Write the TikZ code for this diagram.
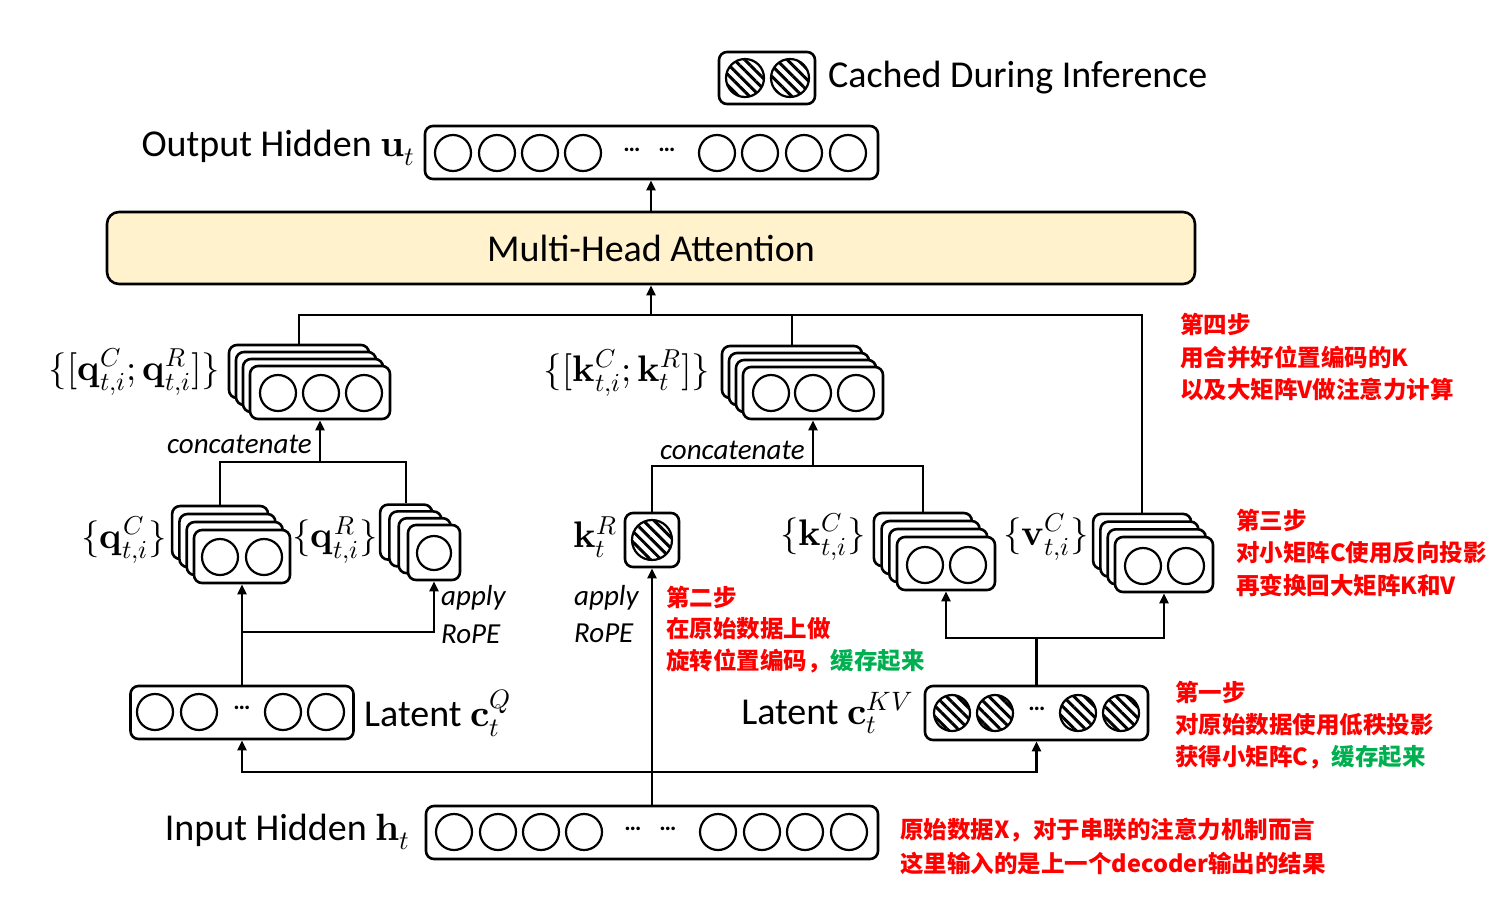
\documentclass[tikz,border=0pt]{standalone}
\usepackage{fontspec}
\usepackage{unicode-math}
\setmainfont{Carlito}
\setmathfont{Latin Modern Math}
\newfontfamily\cjk{Noto Sans CJK SC}
\usetikzlibrary{arrows.meta,patterns.meta,calc}
\definecolor{mhafill}{HTML}{FFF2CC}
\definecolor{stepred}{HTML}{FF0000}
\definecolor{stepgreen}{HTML}{00B050}
\tikzset{
  vbox/.style={draw, line width=2.6pt, rounded corners=8pt, fill=white, inner sep=0pt},
  cir/.style={circle, draw, line width=2.2pt, minimum size=36pt, inner sep=0pt, fill=white},
  hcir/.style={circle, draw, line width=2.2pt, minimum size=36pt, inner sep=0pt,
    pattern={Lines[angle=-45,distance=7.5pt,line width=3pt]}},
  conn/.style={line width=2.3pt},
  arr/.style={conn, -{Triangle[length=10pt,width=9pt]}},
  lab/.style={font=\fontsize{38}{44}\selectfont, inner sep=0pt},
  mlab/.style={font=\fontsize{37}{42}\selectfont, inner sep=0pt},
  itl/.style={font=\fontsize{29}{34}\selectfont\itshape, inner sep=0pt},
  note/.style={font=\fontsize{23.5}{28}\selectfont\cjk\bfseries, text=stepred, inner sep=0pt, anchor=west},
  dotsl/.style={font=\fontsize{24}{26}\selectfont\bfseries, inner sep=0pt},
}
\begin{document}
\begin{tikzpicture}[x=1pt,y=-1pt]
\useasboundingbox (0,0) rectangle (1507,906);

% ---------- legend ----------
\node[vbox, minimum width=96pt, minimum height=52pt] (leg) at (767,78) {};
\node[hcir, minimum size=38pt] (leg1) at (745,78) {};
\node[hcir, minimum size=38pt] (leg2) at (790,78) {};
\node[lab, anchor=west] (legt) at (828,78) {Cached During Inference};

% ---------- output hidden ----------
\node[vbox, minimum width=453pt, minimum height=53pt] (out) at (651.5,152.5) {};
\foreach \i/\x in {1/453,2/497,3/540,4/583,5/717,6/760,7/804,8/848}
  \node[cir] (o\i) at (\x,153) {};
\node[dotsl] (od1) at (632,150) {…};
\node[dotsl] (od2) at (667,150) {…};
\node[lab, anchor=east] (outl) at (415,148) {Output Hidden $\symbf{u}_t$};

% ---------- MHA ----------
\node[vbox, fill=mhafill, rounded corners=12pt, minimum width=1088pt, minimum height=72pt] (mha) at (651,248) {};
\node[lab] (mhat) at (651,248) {Multi-Head Attention};

% ---------- q concat stack ----------
\foreach \k in {3,2,1}
  \node[vbox, minimum width=140pt, minimum height=53pt] (qcat\k) at ({320-7*\k},{392.5-7*\k}) {};
\node[vbox, minimum width=140pt, minimum height=53pt] (qcat) at (320,392.5) {};
\foreach \i/\x in {1/278,2/321,3/364}
  \node[cir] (qca\i) at (\x,393) {};
\node[mlab, anchor=east] (qcatl) at (220,372) {$\{[\symbf{q}^C_{t,i};\symbf{q}^R_{t,i}]\}$};

% ---------- k concat stack ----------
\foreach \k in {3,2,1}
  \node[vbox, minimum width=140pt, minimum height=52pt] (kcat\k) at ({813-7*\k},{393-7*\k}) {};
\node[vbox, minimum width=140pt, minimum height=52pt] (kcat) at (813,393) {};
\foreach \i/\x in {1/771,2/813,3/856}
  \node[cir] (kca\i) at (\x,393) {};
\node[mlab, anchor=east] (kcatl) at (710,373) {$\{[\symbf{k}^C_{t,i};\symbf{k}^R_{t}]\}$};

% ---------- qC stack ----------
\foreach \k in {3,2,1}
  \node[vbox, minimum width=96pt, minimum height=53pt] (qc\k) at ({242-7.3*\k},{556.5-8*\k}) {};
\node[vbox, minimum width=96pt, minimum height=53pt] (qc) at (242,556.5) {};
\foreach \i/\x in {1/220,2/264}
  \node[cir] (qci\i) at (\x,557) {};
\node[mlab, anchor=east] (qcl) at (167,540) {$\{\symbf{q}^C_{t,i}\}$};

% ---------- qR stack ----------
\foreach \k in {3,2,1}
  \node[vbox, minimum width=52pt, minimum height=55pt] (qr\k) at ({434-9.3*\k},{552.5-6.8*\k}) {};
\node[vbox, minimum width=52pt, minimum height=55pt] (qr) at (434,552.5) {};
\node[cir, minimum size=34pt] (qri) at (434,553) {};
\node[mlab] (qrl) at (335,540) {$\{\symbf{q}^R_{t,i}\}$};

% ---------- kR ----------
\node[vbox, minimum width=54pt, minimum height=54pt] (kr) at (652,540) {};
\node[hcir, minimum size=40pt] (kri) at (652,540) {};
\node[mlab, anchor=east] (krl) at (617,537) {$\symbf{k}^R_{t}$};

% ---------- kC stack ----------
\foreach \k in {3,2,1}
  \node[vbox, minimum width=98pt, minimum height=53pt] (kc\k) at ({946-7.7*\k},{563.5-8*\k}) {};
\node[vbox, minimum width=98pt, minimum height=53pt] (kc) at (946,563.5) {};
\foreach \i/\x in {1/925,2/968}
  \node[cir] (kci\i) at (\x,565) {};
\node[mlab, anchor=east] (kcl) at (866,537) {$\{\symbf{k}^C_{t,i}\}$};

% ---------- vC stack ----------
\foreach \k in {3,2,1}
  \node[vbox, minimum width=98pt, minimum height=55pt] (vc\k) at ({1164-7.3*\k},{564.5-7.7*\k}) {};
\node[vbox, minimum width=98pt, minimum height=55pt] (vc) at (1164,564.5) {};
\foreach \i/\x in {1/1143,2/1186}
  \node[cir] (vci\i) at (\x,566) {};
\node[mlab] (vcl) at (1046,537) {$\{\symbf{v}^C_{t,i}\}$};

% ---------- latent Q ----------
\node[vbox, minimum width=223pt, minimum height=53pt] (lq) at (242,712.5) {};
\foreach \i/\x in {1/155,2/199,3/283,4/326}
  \node[cir] (lqi\i) at (\x,712) {};
\node[dotsl] (lqd) at (242,708) {…};
\node[lab, anchor=west] (lql) at (364,713) {Latent $\symbf{c}^Q_t$};

% ---------- latent KV ----------
\node[vbox, minimum width=223pt, minimum height=54pt] (lkv) at (1036.5,713) {};
\foreach \i/\x in {1/952,2/995,3/1078,4/1121}
  \node[hcir] (lkvi\i) at (\x,713) {};
\node[dotsl] (lkvd) at (1037,709) {…};
\node[lab, anchor=east] (lkvl) at (913,713) {Latent $\symbf{c}^{KV}_t$};

% ---------- input hidden ----------
\node[vbox, minimum width=452pt, minimum height=53pt] (inp) at (652,832.5) {};
\foreach \i/\x in {1/454,2/498,3/541,4/584,5/718,6/762,7/805,8/849}
  \node[cir] (in\i) at (\x,832) {};
\node[dotsl] (id1) at (633,829) {…};
\node[dotsl] (id2) at (668,829) {…};
\node[lab, anchor=east] (inl) at (410,832) {Input Hidden $\symbf{h}_t$};

% ---------- small labels ----------
\node[itl, anchor=east] (cat1) at (312,444) {concatenate};
\node[itl, anchor=east] (cat2) at (805,450) {concatenate};
\node[itl, anchor=west] (ap1) at (441,598) {apply};
\node[itl, anchor=west] (rp1) at (441,634) {RoPE};
\node[itl, anchor=west] (ap2) at (574,598) {apply};
\node[itl, anchor=west] (rp2) at (574,633) {RoPE};

% ---------- connectors ----------
\coordinate (yt) at (0,315);
\coordinate (jtop) at (mha.south |- yt);
\draw[conn] (qcat3.north) |- (jtop);
\draw[conn] (kcat3.north) |- (jtop);
\draw[conn] (jtop) -| (vc3.north);
\draw[arr] (jtop) -- (mha.south);
\draw[arr] (mha.north) -- (mha.north |- out.south);

\coordinate (yq) at (0,462);
\coordinate (jq) at (qcat.south |- yq);
\draw[conn] (qc3.north) |- (jq);
\draw[conn] (qr3.north) |- (jq);
\draw[arr] (jq) -- (qcat.south);

\coordinate (yk) at (0,466);
\coordinate (jk) at (kcat.south |- yk);
\draw[conn] (kr.north) |- (jk);
\draw[conn] (kc3.north) |- (jk);
\draw[arr] (jk) -- (kcat.south);

\coordinate (ylq) at (0,632);
\coordinate (jlq) at (lq.north |- ylq);
\draw[conn] (lq.north) -- (jlq);
\draw[arr] (jlq) -- (qc.south);
\draw[arr] (jlq) -| (qr.south);

\coordinate (ykv) at (0,638);
\coordinate (jkv) at (lkv.north |- ykv);
\draw[conn] (lkv.north) -- (jkv);
\draw[arr] (jkv) -| (kc.south);
\draw[arr] (jkv) -| (vc.south);

\coordinate (yin) at (0,772);
\coordinate (jin) at (inp.north |- yin);
\draw[arr] (inp.north) -- (kr.south);
\draw[arr] (jin) -| (lq.south);
\draw[arr] (jin) -| (lkv.south);

% ---------- notes ----------
\node[note] (n4a) at (1180,324) {第四步};
\node[note] (n4b) at (1180,357) {用合并好位置编码的K};
\node[note] (n4c) at (1180,389) {以及大矩阵V做注意力计算};
\node[note] (n3a) at (1236,520) {第三步};
\node[note] (n3b) at (1236,553) {对小矩阵C使用反向投影};
\node[note] (n3c) at (1236,585) {再变换回大矩阵K和V};
\node[note] (n2a) at (666,597) {第二步};
\node[note] (n2b) at (666,629) {在原始数据上做};
\node[note] (n2c) at (666,661) {旋转位置编码，{\color{stepgreen}缓存起来}};
\node[note] (n1a) at (1175,692) {第一步};
\node[note] (n1b) at (1175,725) {对原始数据使用低秩投影};
\node[note] (n1c) at (1175,757) {获得小矩阵C，{\color{stepgreen}缓存起来}};
\node[note] (n0a) at (900,830) {原始数据X，对于串联的注意力机制而言};
\node[note] (n0b) at (900,863) {这里输入的是上一个decoder输出的结果};
\end{tikzpicture}
\end{document}
